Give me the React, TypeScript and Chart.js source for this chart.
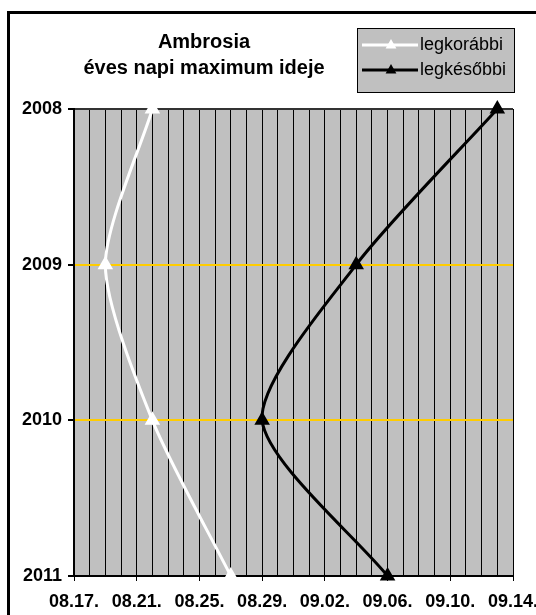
import React, { useEffect, useRef } from "react";
import { Chart, registerables } from "chart.js";

Chart.register(...registerables);

const years = [2008, 2009, 2010, 2011];
const earliestDates = ["08.22.", "08.19.", "08.22.", "08.27."];
const latestDates = ["09.13.", "09.04.", "08.29.", "09.06."];
const xTickLabels = ["08.17.", "08.21.", "08.25.", "08.29.", "09.02.", "09.06.", "09.10.", "09.14."];
const titleLines = ["Ambrosia", "éves napi maximum ideje"];
const seriesNames = ["legkorábbi", "legkésőbbi"];

const START_MONTH = 8;
const START_DAY = 17;
const DAYS_IN_AUG = 31;

function dayOffset(label: string): number {
  const [m, d] = label.split(".").map((s) => parseInt(s, 10));
  if (m === START_MONTH) return d - START_DAY;
  return DAYS_IN_AUG - START_DAY + d;
}

const FONT = "'Liberation Sans', Arial, sans-serif";

export default function App() {
  const ref = useRef<HTMLCanvasElement>(null);
  useEffect(() => {
    const canvas = ref.current!;
    const decor = {
      id: "decor",
      beforeDraw(chart: any) {
        const { ctx, chartArea } = chart;
        ctx.save();
        ctx.fillStyle = "#fff";
        ctx.fillRect(0, 0, chart.width, chart.height);
        ctx.fillStyle = "#C0C0C0";
        ctx.fillRect(chartArea.left, chartArea.top, chartArea.right - chartArea.left, chartArea.bottom - chartArea.top);
        ctx.restore();
      },
      afterDraw(chart: any) {
        const { ctx } = chart;
        ctx.save();
        // outer frame
        ctx.strokeStyle = "#000";
        ctx.lineWidth = 3;
        ctx.strokeRect(8.5, 12.5, 600, 700);
        // title
        ctx.fillStyle = "#000";
        ctx.font = `bold 20px ${FONT}`;
        ctx.textAlign = "center";
        ctx.textBaseline = "middle";
        ctx.fillText(titleLines[0], 204, 42);
        ctx.fillText(titleLines[1], 204, 68);
        // legend
        const bx = 357.5, by = 28.5, bw = 157, bh = 64;
        ctx.fillStyle = "#C0C0C0";
        ctx.fillRect(bx, by, bw, bh);
        ctx.strokeStyle = "#000";
        ctx.lineWidth = 1;
        ctx.strokeRect(bx, by, bw, bh);
        const colors = ["#fff", "#000"];
        const ys = [45, 70];
        for (let i = 0; i < 2; i++) {
          ctx.strokeStyle = colors[i];
          ctx.fillStyle = colors[i];
          ctx.lineWidth = 3;
          ctx.beginPath();
          ctx.moveTo(362, ys[i]);
          ctx.lineTo(418, ys[i]);
          ctx.stroke();
          const cx = 391, cy = ys[i], r = 6;
          ctx.beginPath();
          ctx.moveTo(cx, cy - r);
          ctx.lineTo(cx + r * 0.9, cy + r * 0.6);
          ctx.lineTo(cx - r * 0.9, cy + r * 0.6);
          ctx.closePath();
          ctx.fill();
          ctx.fillStyle = "#000";
          ctx.font = `18px ${FONT}`;
          ctx.textAlign = "left";
          ctx.fillText(seriesNames[i], 420, ys[i]);
        }
        ctx.restore();
      },
    };
    const chart = new Chart(canvas, {
      type: "line",
      data: {
        datasets: [
          {
            label: seriesNames[0],
            data: years.map((y, i) => ({ x: dayOffset(earliestDates[i]), y })),
            borderColor: "#fff",
            backgroundColor: "#fff",
            borderWidth: 3,
            pointStyle: "triangle",
            pointRadius: 6,
            pointBackgroundColor: "#fff",
            pointBorderColor: "#fff",
            tension: 0.25,
            clip: false,
          },
          {
            label: seriesNames[1],
            data: years.map((y, i) => ({ x: dayOffset(latestDates[i]), y })),
            borderColor: "#000",
            backgroundColor: "#000",
            borderWidth: 3,
            pointStyle: "triangle",
            pointRadius: 6,
            pointBackgroundColor: "#000",
            pointBorderColor: "#000",
            tension: 0.25,
            clip: false,
          },
        ],
      },
      options: {
        animation: false,
        responsive: false,
        devicePixelRatio: 1,
        layout: { padding: { left: 0, top: 109, right: 23, bottom: 0 } },
        plugins: { legend: { display: false }, title: { display: false }, tooltip: { enabled: false } },
        events: [],
        scales: {
          x: {
            type: "linear",
            min: 0,
            max: 28,
            afterFit: (s: any) => {
              s.height = 39;
              s.paddingLeft = 0;
              s.paddingRight = 0;
            },
            border: { color: "#000", width: 2 },
            grid: {
              color: "#000",
              lineWidth: 1,
              tickLength: 5,
              tickColor: (c: any) => (c.tick && c.tick.value % 4 === 0 ? "#000" : "rgba(0,0,0,0)"),
            },
            ticks: {
              stepSize: 1,
              autoSkip: false,
              maxRotation: 0,
              padding: 10,
              color: "#000",
              font: { family: FONT, size: 18, weight: "bold" },
              callback: (v: any) => (v % 4 === 0 ? xTickLabels[v / 4] : ""),
            },
          },
          y: {
            type: "linear",
            min: 2008,
            max: 2011,
            reverse: true,
            afterFit: (s: any) => {
              s.width = 74;
              s.paddingTop = 0;
              s.paddingBottom = 0;
            },
            border: { color: "#000", width: 2 },
            grid: {
              color: (c: any) => (c.tick && (c.tick.value === 2008) ? "#333" : "#FFCC00"),
              lineWidth: 2,
              tickLength: 6,
              tickColor: "#000",
            },
            ticks: {
              stepSize: 1,
              padding: 6,
              color: "#000",
              font: { family: FONT, size: 18, weight: "bold" },
              callback: (v: any) => String(v),
            },
          },
        },
      },
      plugins: [decor],
    });
    return () => chart.destroy();
  }, []);
  return (
    <canvas
      ref={ref}
      width={536}
      height={615}
      style={{ position: "fixed", left: 0, top: 0, width: 536, height: 615 }}
    />
  );
}
